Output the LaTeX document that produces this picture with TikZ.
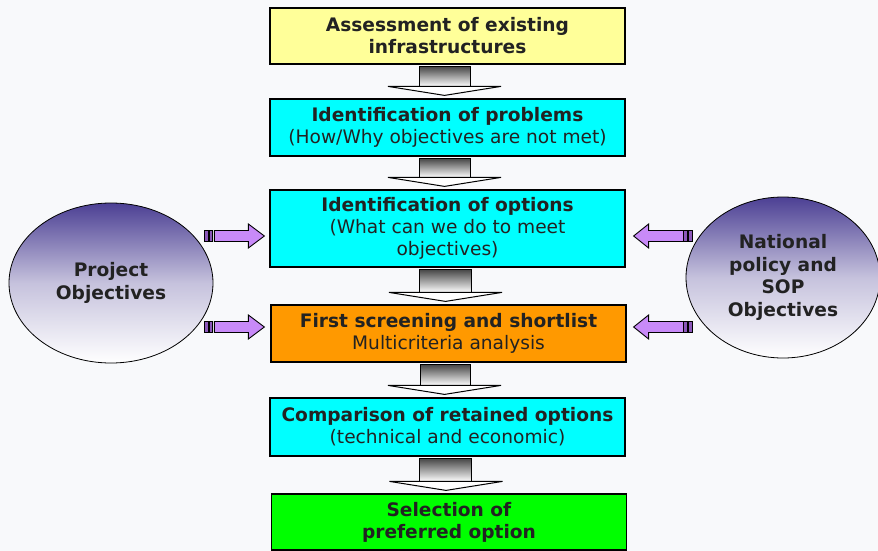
\documentclass[tikz,border=0pt]{standalone}
\usepackage{fontspec}
\setmainfont{DejaVu Sans}
\usepackage{tikz}
\usetikzlibrary{shapes.geometric,calc}

\definecolor{boxyellow}{RGB}{255,255,153}
\definecolor{boxcyan}{RGB}{0,255,255}
\definecolor{boxorange}{RGB}{255,153,0}
\definecolor{boxgreen}{RGB}{0,255,0}
\definecolor{arrviolet}{RGB}{200,138,248}
\definecolor{barviolet}{RGB}{140,88,186}
\definecolor{ovaltop}{RGB}{76,64,148}
\definecolor{textgray}{RGB}{34,34,34}
\definecolor{pagebg}{RGB}{248,249,251}

\tikzset{
  stepbox/.style={draw=black, line width=1.2pt, minimum width=355pt, inner sep=0pt,
    align=center, text=textgray, font=\fontsize{18.6}{22}\selectfont},
  oval/.style={ellipse, draw=black, line width=0.8pt, inner sep=0pt, align=center,
    text=textgray, font=\fontsize{18.6}{22.5}\selectfont\bfseries,
    top color=ovaltop, bottom color=white, middle color=ovaltop!32!white},
  downshaft/.style={draw=black, line width=1pt, top color=black!72, bottom color=white},
  downhead/.style={draw=black, line width=1pt, fill=white, line join=miter},
  sidearrow/.style={draw=black, line width=0.9pt, fill=arrviolet, line join=miter},
  sidebar/.style={draw=black, line width=0.6pt, fill=barviolet}
}

\begin{document}
\begin{tikzpicture}[x=1pt, y=-1pt]

	\fill[pagebg] (0,0) rectangle (878,551);
	\useasboundingbox (0,0) rectangle (878,551);

	% boxes of the main chain
	\node[stepbox, fill=boxyellow, minimum height=56pt] (b1) at (447.5,36)
		{\textbf{Assessment of existing}\\\textbf{infrastructures}};
	\node[stepbox, fill=boxcyan, minimum height=57pt] (b2) at (447.5,127.5)
		{\textbf{Identification of problems}\\(How/Why objectives are not met)};
	\node[stepbox, fill=boxcyan, minimum height=77pt] (b3) at (447.5,228.5)
		{\textbf{Identification of options}\\(What can we do to meet\\objectives)};
	\node[stepbox, fill=boxorange, minimum height=57pt] (b4) at (448.5,333.5)
		{\textbf{First screening and shortlist}\\Multicriteria analysis};
	\node[stepbox, fill=boxcyan, minimum height=58pt] (b5) at (447.5,427)
		{\textbf{Comparison of retained options}\\(technical and economic)};
	\node[stepbox, fill=boxgreen, minimum height=56pt] (b6) at (449,522)
		{\textbf{Selection of}\\\textbf{preferred option}};

	% objectives ovals
	\node[oval, minimum width=204pt, minimum height=160pt] (po) at (111,283)
		{Project\\Objectives};
	\node[oval, minimum width=194pt, minimum height=161pt] (np) at (783,277.5)
		{National\\policy and\\SOP\\Objectives};

	% block arrows between boxes
	\foreach \a/\b in {b1/b2,b2/b3,b3/b4,b4/b5,b5/b6}{
		\coordinate (t) at ($(\a.south)+(-3,2)$);
		\coordinate (h) at ($(\b.north)+(-3,-3)$);
		\draw[downshaft] ($(t)+(-25.5,0)$) rectangle ($(h)+(25.5,-9)$);
		\draw[downhead] ($(h)+(-56.5,-9)$) -- ($(h)+(56.5,-9)$) -- (h) -- cycle;
	}

	% side arrows from the ovals
	\coordinate (pl1) at ($(b3.west)+(-5,7.5)$);
	\coordinate (pl2) at ($(b4.west)+(-6,-6.5)$);
	\coordinate (pr1) at ($(b3.east)+(8,7.5)$);
	\coordinate (pr2) at ($(b4.east)+(7,-6.5)$);

	\foreach \p in {pl1,pl2}{
		\draw[sidearrow] (\p) -- ++(-16,-12) -- ++(0,6.5) -- ++(-34,0) -- ++(0,11)
			-- ++(34,0) -- ++(0,6.5) -- cycle;
		\draw[sidebar] ($(\p)+(-60,-5.5)$) rectangle ++(3.5,11);
		\draw[sidebar] ($(\p)+(-55.5,-5.5)$) rectangle ++(3.5,11);
	}
	\foreach \p in {pr1,pr2}{
		\draw[sidearrow] (\p) -- ++(15,-12) -- ++(0,6.5) -- ++(35,0) -- ++(0,11)
			-- ++(-35,0) -- ++(0,6.5) -- cycle;
		\draw[sidebar] ($(\p)+(50,-5.5)$) rectangle ++(3.5,11);
		\draw[sidebar] ($(\p)+(55,-5.5)$) rectangle ++(3.5,11);
	}

\end{tikzpicture}
\end{document}
